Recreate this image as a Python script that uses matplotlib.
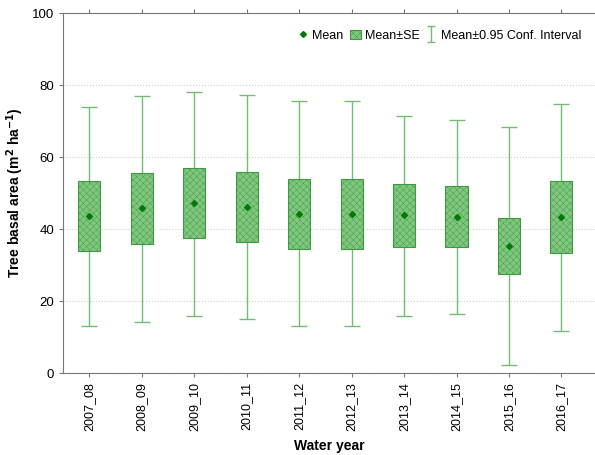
import matplotlib.pyplot as plt
from matplotlib.patches import Patch
from matplotlib.lines import Line2D
from matplotlib.path import Path
import numpy as np

plt.rcParams['font.family'] = ['Liberation Sans', 'DejaVu Sans']
plt.rcParams['hatch.linewidth'] = 0.3

years = ['2007_08', '2008_09', '2009_10', '2010_11', '2011_12',
         '2012_13', '2013_14', '2014_15', '2015_16', '2016_17']
mean = [43.7, 45.8, 47.2, 46.2, 44.3, 44.3, 43.8, 43.3, 35.3, 43.3]
se_low = [34.0, 36.0, 37.5, 36.3, 34.5, 34.5, 35.0, 35.0, 27.5, 33.5]
se_high = [53.3, 55.5, 57.0, 56.0, 54.0, 54.0, 52.5, 52.0, 43.2, 53.3]
ci_low = [13.0, 14.3, 16.0, 15.0, 13.0, 13.0, 16.0, 16.5, 2.2, 11.8]
ci_high = [74.0, 77.0, 78.0, 77.3, 75.5, 75.5, 71.5, 70.3, 68.5, 74.7]

fill = '#80c680'
edge = '#3f9a3f'
whisk = '#72bd72'
dot = '#007a00'

fig = plt.figure(figsize=(5.95, 4.55), dpi=100)
ax = fig.add_axes([0.106, 0.180, 0.894, 0.791])

x = np.arange(len(years))
mean_a = np.array(mean)
yerr = [mean_a - np.array(ci_low), np.array(ci_high) - mean_a]
ax.errorbar(x, mean, yerr=yerr, fmt='none', ecolor=whisk, elinewidth=1.0,
            capsize=6, capthick=1.0, zorder=1)
ax.bar(x, np.array(se_high) - np.array(se_low), bottom=se_low, width=0.42,
       color=fill, edgecolor=edge, linewidth=0.8, hatch='xxxxx', zorder=2)
ax.scatter(x, mean, marker='D', s=9, color=dot, zorder=3)

ax.set_xlim(-0.5, 9.64)
ax.set_ylim(0, 100)
ax.set_yticks([0, 20, 40, 60, 80, 100])
ax.set_xticks(x)
ax.set_xticklabels(years, rotation=90, fontsize=9)
ax.tick_params(axis='y', labelsize=9.5, length=3, color='#777777')
ax.tick_params(axis='x', length=3, color='#777777', top=True)
ax.yaxis.grid(True, linestyle=':', color='#cccccc', linewidth=0.8)
ax.set_axisbelow(True)
for s in ['left', 'bottom', 'top']:
    ax.spines[s].set_color('#777777')
ax.spines['right'].set_visible(False)

ax.set_xlabel('Water year', fontsize=10, fontweight='bold', labelpad=6)
ax.set_ylabel('Tree basal area (m$^\\mathbf{2}$ ha$^\\mathbf{-1}$)',
              fontsize=10, fontweight='bold')

ibar = Path([(-0.5, 1), (0.5, 1), (0, 1), (0, -1), (-0.5, -1), (0.5, -1)],
            [Path.MOVETO, Path.LINETO, Path.MOVETO, Path.LINETO,
             Path.MOVETO, Path.LINETO])
handles = [Line2D([], [], marker='D', linestyle='none', color=dot, markersize=3),
           Patch(facecolor=fill, edgecolor=edge, hatch='xxxxx', linewidth=0.8),
           Line2D([], [], marker=ibar, linestyle='none', markerfacecolor='none',
                  markeredgecolor=whisk, markeredgewidth=1.0, markersize=11)]
ax.legend(handles, ['Mean', 'Mean±SE', 'Mean±0.95 Conf. Interval'],
          loc='upper right', bbox_to_anchor=(0.995, 0.985), ncol=3, frameon=False,
          fontsize=9, handlelength=0.9, handletextpad=0.3, columnspacing=0.5)

fig.savefig('out.png', dpi=100)
